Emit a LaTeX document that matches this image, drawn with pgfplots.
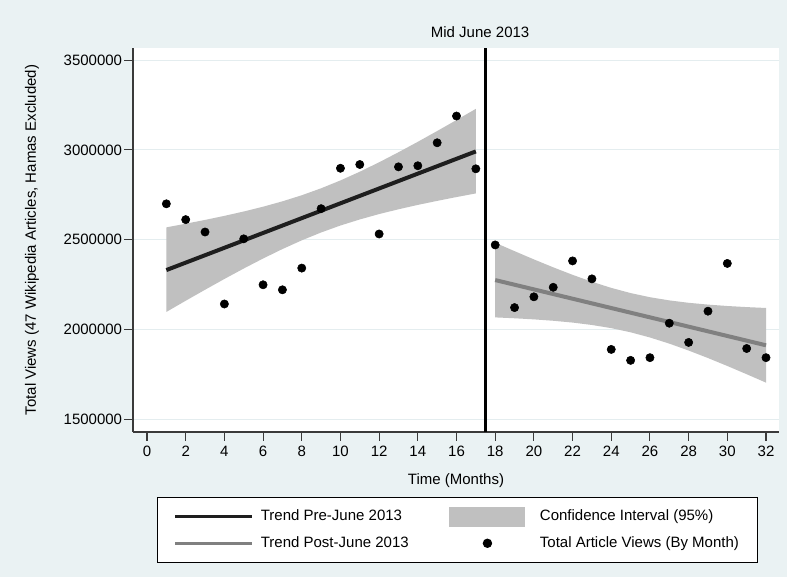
\documentclass[border=0pt]{standalone}
\usepackage{fontspec}
\setmainfont{Liberation Sans}
\usepackage{pgfplots}
\usepackage{pgfplotstable}
\pgfplotsset{compat=1.18}
\definecolor{bgcol}{HTML}{EAF2F3}
\definecolor{gridcol}{HTML}{E4EDEF}
\definecolor{cigray}{HTML}{C0C0C0}
\definecolor{pretrend}{HTML}{1E1E1E}
\definecolor{posttrend}{HTML}{808080}
\definecolor{axiscol}{HTML}{3A3A3A}

\pgfplotsset{markleg/.style={legend image code/.code={\path[draw=none, fill=none] (0pt,0pt) -- (62.25pt,0pt); \draw[##1, draw=none] plot coordinates {(28.125pt,0pt)};}}}

\pgfplotstableread{
x y
1 2700000
2 2612000
3 2543000
4 2142000
5 2505000
6 2249000
7 2221000
8 2342000
9 2673000
10 2898000
11 2919000
12 2532000
13 2906000
14 2912000
15 3040000
16 3189000
17 2895000
18 2471000
19 2122000
20 2182000
21 2235000
22 2382000
23 2282000
24 1889000
25 1828000
26 1843000
27 2035000
28 1928000
29 2102000
30 2368000
31 1894000
32 1843000
}\obs

% 95% confidence band, pre period: upper edge x=1..17, then lower edge x=17..1
\pgfplotstableread{
x y
1 2568800
2 2589100
3 2610300
4 2632800
5 2657200
6 2683800
7 2713800
8 2747600
9 2786400
10 2830200
11 2878800
12 2931400
13 2987200
14 3045400
15 3105500
16 3166700
17 3229000
17 2758000
16 2737700
15 2716400
14 2694000
13 2669600
12 2643000
11 2613000
10 2579200
9 2540400
8 2496600
7 2448000
6 2395400
5 2339600
4 2281400
3 2221300
2 2160100
1 2097800
}\preband

% 95% confidence band, post period: upper edge x=18..32, then lower edge x=32..18
\pgfplotstableread{
x y
18 2483200
19 2436300
20 2390400
21 2346200
22 2304400
23 2265800
24 2231700
25 2202800
26 2179700
27 2162000
28 2148600
29 2138600
30 2130800
31 2124700
32 2119800
32 1704000
31 1750900
30 1796800
29 1841000
28 1882800
27 1921400
26 1955500
25 1984400
24 2007500
23 2025200
22 2038600
21 2048600
20 2056400
19 2062500
18 2067400
}\postband

\begin{document}
\fontsize{11.25pt}{13.5pt}\selectfont
\begin{tikzpicture}
\fill[bgcol] (0,0) rectangle (590.25pt,432.75pt);
\begin{axis}[
  at={(99.75pt,108.75pt)}, anchor=south west,
  width=484.5pt, height=288pt, scale only axis,
  xmin=-0.724, xmax=32.672, ymin=1429000, ymax=3568000,
  axis background/.style={fill=white},
  axis x line*=bottom, axis y line*=left,
  axis line style={axiscol, line width=0.8pt, -},
  xtick={0,2,...,32},
  ytick={1500000,2000000,2500000,3000000,3500000},
  scaled y ticks=false,
  tick align=outside, major tick length=6.5pt,
  tick style={axiscol, line width=0.8pt},
  minor tick num=0,
  ymajorgrids, grid style={gridcol, line width=0.8pt},
  y tick label style={inner xsep=1.5pt},
  x tick label style={/pgf/number format/assume math mode=true},
  yticklabel style={/pgf/number format/.cd, fixed, precision=0, 1000 sep={}, assume math mode=true},
  xlabel={Time (Months)},
  xlabel style={at={(axis description cs:0.5,-0.1276)}, anchor=center},
  ylabel={Total Views (47 Wikipedia Articles, Hamas Excluded)},
  ylabel style={at={(axis description cs:-0.1563,0.5)}, anchor=center},
  clip mode=individual,
  legend columns=2,
  legend cell align=left,
  legend style={at={(axis description cs:0.03715,-0.1693)}, anchor=north west,
    draw=black, line width=0.8pt, fill=white,
    inner xsep=12pt, inner ysep=6.9pt, row sep=4.9pt,
    nodes={inner sep=2pt, text height=8.5pt, text depth=2.5pt, anchor=west},
    /tikz/every odd column/.append style={column sep=3.25pt},
    /tikz/every even column/.append style={column sep=28.5pt}},
]
\addlegendimage{legend image code/.code={\draw[pretrend, line width=2.5pt] (0pt,0pt) -- (57.75pt,0pt);}}
\addlegendentry{Trend Pre-June 2013}
\addlegendimage{legend image code/.code={\fill[cigray] (0pt,-7.1pt) rectangle (56.25pt,7.1pt); \path[draw=none] (62.25pt,0pt);}}
\addlegendentry{Confidence Interval (95\%)}
\addlegendimage{legend image code/.code={\draw[posttrend, line width=2.5pt] (0pt,0pt) -- (57.75pt,0pt);}}
\addlegendentry{Trend Post-June 2013}
\addlegendimage{mark=*, mark size=3.1pt, black, markleg}
\addlegendentry{Total Article Views (By Month)}

\addplot[fill=cigray, draw=none, forget plot] table[x=x, y=y] {\preband} -- cycle;
\addplot[fill=cigray, draw=none, forget plot] table[x=x, y=y] {\postband} -- cycle;

\addplot[pretrend, line width=3pt, forget plot] coordinates {(1,2331000) (17,2992000)};
\addplot[posttrend, line width=3pt, forget plot] coordinates {(18,2275300) (32,1911900)};

\addplot[only marks, mark=*, mark size=3.1pt, black, forget plot] table[x=x, y=y] {\obs};

\addplot[black, line width=2.6pt, forget plot] coordinates {(17.5,1429000) (17.5,3568000)};

\node[anchor=center] at ([yshift=11.6pt]axis cs:17.22,3568000) {Mid June 2013};
\end{axis}
\pgfresetboundingbox
\useasboundingbox (0,0) rectangle (590.25pt,432.75pt);
\end{tikzpicture}
\end{document}
